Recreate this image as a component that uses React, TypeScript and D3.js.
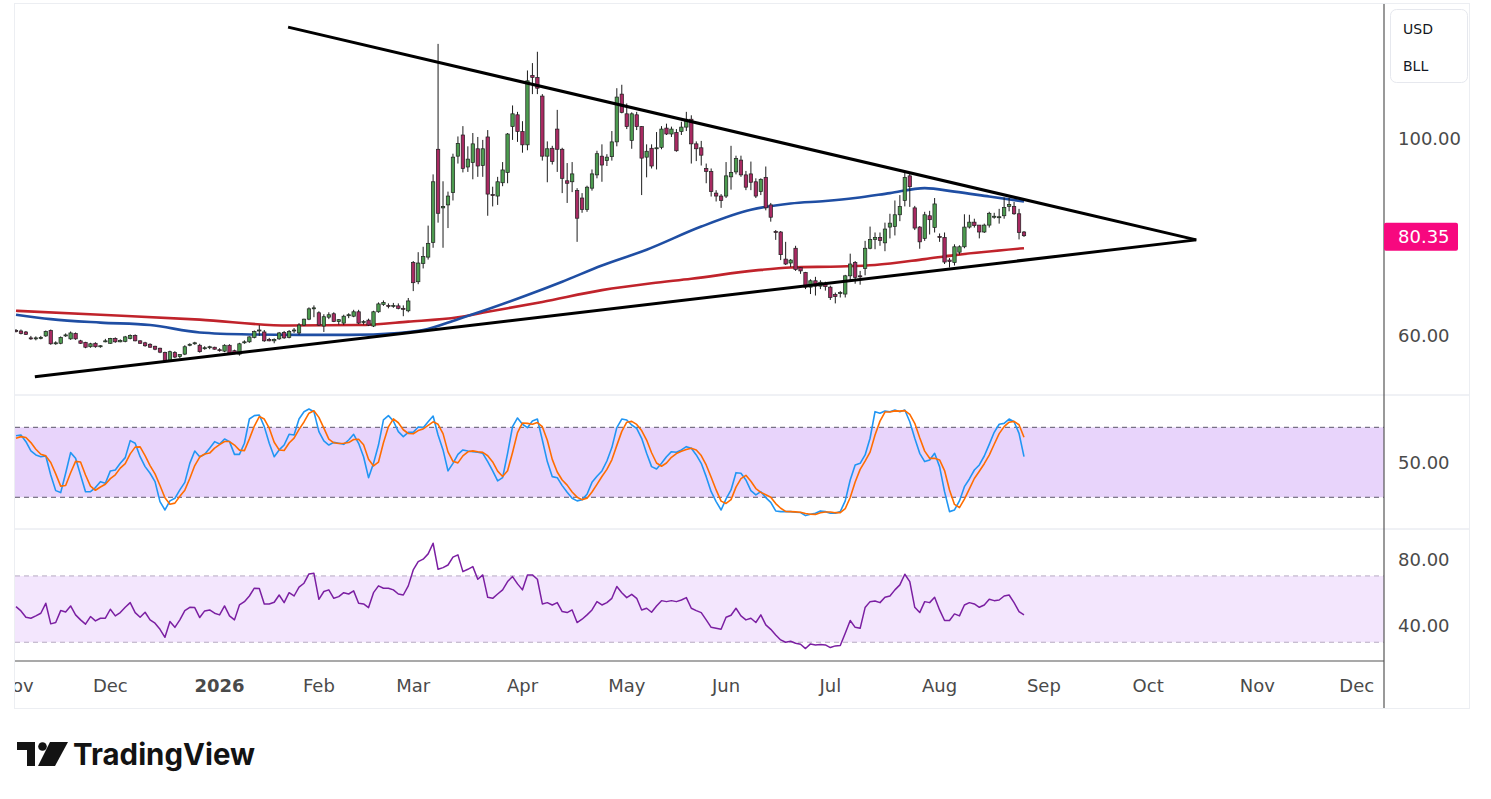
import React from "react";
import * as d3 from "d3";

// ---- data (daily bars from 2025-11-03, US trading calendar) ----
const firstDay = "2025-11-03";
const holidays = [
  "2025-11-27", "2025-12-25", "2026-01-01", "2026-01-19", "2026-02-16", "2026-04-03",
  "2026-05-25", "2026-06-19", "2026-07-03", "2026-09-07", "2026-11-26", "2026-12-25",
];

// [open, high, low, close]
const candles: [number, number, number, number][] = [
  [61.1, 61.4, 60.7, 60.9], [61.0, 61.3, 60.3, 60.5], [60.8, 61.0, 60.2, 60.3], [59.6, 60.0, 59.2, 59.5], [59.5, 59.9, 59.1, 59.6],
  [59.6, 60.0, 59.3, 59.7], [60.0, 61.1, 59.8, 60.9], [61.1, 61.3, 58.2, 58.4], [58.5, 58.9, 58.2, 58.6], [58.5, 59.9, 58.3, 59.7],
  [60.1, 60.5, 59.8, 60.2], [59.4, 60.9, 59.2, 60.6], [60.5, 60.7, 59.2, 59.4], [59.0, 59.2, 58.4, 58.5], [58.7, 58.8, 57.5, 57.7],
  [57.8, 58.6, 57.6, 58.4], [58.5, 58.7, 57.6, 57.8], [57.9, 58.1, 57.6, 58.0], [58.9, 59.4, 58.7, 59.0], [58.5, 59.6, 58.4, 59.5],
  [59.5, 59.7, 58.6, 58.8], [58.8, 59.3, 58.7, 59.1], [58.9, 60.0, 58.7, 59.8], [59.5, 60.3, 59.3, 60.1], [60.1, 60.3, 58.9, 59.0],
  [59.0, 59.1, 58.4, 58.5], [58.6, 58.8, 57.8, 58.0], [58.3, 58.5, 57.6, 57.7], [57.9, 58.0, 57.1, 57.3], [57.5, 57.6, 56.5, 56.7],
  [56.6, 56.8, 54.8, 55.0], [55.0, 57.0, 54.7, 56.8], [56.6, 56.9, 55.5, 55.7], [55.8, 56.3, 55.5, 56.2], [56.3, 58.1, 56.1, 57.8],
  [58.2, 58.5, 57.9, 58.3], [58.4, 58.8, 58.2, 58.6], [58.1, 58.4, 56.6, 56.8], [57.5, 57.9, 57.2, 57.6], [57.6, 58.0, 57.3, 57.8],
  [57.7, 57.8, 57.2, 57.3], [57.2, 57.5, 56.8, 57.0], [56.9, 58.3, 56.7, 58.1], [58.1, 58.3, 56.4, 56.5], [57.0, 57.2, 56.3, 56.5],
  [56.3, 58.6, 56.0, 58.4], [58.6, 59.1, 58.4, 58.8], [58.8, 59.9, 58.6, 59.8], [59.7, 61.1, 59.5, 60.9], [61.1, 62.2, 60.0, 61.2],
  [60.8, 61.2, 58.8, 59.0], [59.3, 59.6, 58.9, 59.0], [59.0, 59.5, 58.5, 59.3], [59.4, 60.8, 59.2, 60.6], [60.7, 61.0, 59.4, 59.6],
  [59.7, 61.2, 59.5, 60.9], [61.0, 61.6, 60.6, 61.2], [60.6, 62.6, 60.2, 62.2], [62.2, 63.5, 62.0, 63.4], [63.4, 65.8, 63.2, 65.5],
  [65.6, 66.2, 63.8, 65.7], [64.7, 65.0, 62.0, 62.2], [62.0, 64.4, 60.8, 63.9], [63.8, 64.8, 63.4, 64.3], [64.5, 64.8, 62.8, 62.9],
  [62.9, 63.4, 62.3, 63.3], [62.6, 64.3, 62.2, 64.0], [64.2, 64.6, 63.6, 64.3], [64.0, 65.3, 63.8, 64.9], [64.9, 65.3, 62.4, 62.6],
  [62.8, 63.2, 62.3, 62.9], [63.2, 63.5, 62.0, 62.2], [62.0, 65.1, 61.8, 64.9], [64.9, 66.8, 64.7, 66.5], [66.4, 67.2, 66.1, 66.8],
  [66.2, 66.6, 65.6, 66.0], [66.1, 66.7, 65.7, 66.2], [66.1, 66.6, 65.4, 65.6], [65.6, 66.2, 64.0, 65.5], [65.1, 67.7, 64.8, 67.1],
  [74.9, 75.2, 69.1, 70.8], [71.0, 77.0, 70.5, 74.8], [74.7, 78.1, 73.7, 76.1], [76.0, 82.4, 75.5, 78.8], [79.0, 92.8, 77.9, 91.3],
  [97.9, 119.3, 83.0, 84.9], [86.0, 91.4, 77.9, 86.3], [86.6, 89.3, 81.9, 88.4], [89.1, 97.0, 87.5, 96.3], [96.5, 100.5, 95.0, 99.1],
  [100.8, 102.6, 93.2, 94.0], [94.3, 98.5, 93.3, 95.9], [95.2, 101.2, 91.8, 99.0], [98.0, 100.4, 92.3, 94.5], [94.6, 99.8, 92.3, 98.0],
  [100.4, 101.8, 84.4, 88.8], [88.7, 90.3, 86.3, 88.5], [88.4, 92.3, 86.6, 91.3], [91.1, 95.3, 90.4, 93.7], [93.2, 101.2, 91.0, 101.0],
  [102.5, 106.8, 99.8, 105.1], [104.9, 105.5, 99.4, 101.5], [101.5, 103.6, 97.2, 98.8], [98.8, 113.9, 97.7, 111.8], [112.9, 115.4, 109.1, 112.5],
  [112.5, 117.7, 109.1, 110.3], [108.7, 109.1, 95.6, 96.5], [96.5, 99.5, 91.2, 98.0], [98.1, 98.6, 94.8, 95.4], [102.0, 105.9, 93.3, 97.9],
  [97.9, 98.2, 89.0, 92.0], [91.5, 95.1, 87.0, 91.0], [91.3, 95.3, 89.2, 92.9], [89.5, 90.0, 79.1, 83.9], [88.0, 89.0, 85.0, 85.7],
  [85.7, 90.5, 85.2, 90.2], [90.0, 93.8, 89.5, 92.9], [92.7, 97.6, 92.0, 97.0], [96.5, 98.9, 91.3, 94.7], [95.6, 96.9, 94.5, 96.3],
  [96.4, 101.6, 95.6, 99.4], [99.4, 110.3, 98.5, 108.5], [109.1, 111.0, 105.2, 105.4], [105.1, 107.2, 102.0, 102.5], [99.7, 105.4, 98.0, 105.1],
  [104.9, 105.5, 101.8, 102.5], [102.5, 102.6, 88.6, 96.1], [96.3, 98.9, 92.2, 97.5], [98.1, 98.9, 94.0, 94.5], [98.1, 101.4, 93.8, 98.2],
  [98.3, 102.6, 97.9, 102.0], [102.2, 103.1, 100.8, 101.0], [101.0, 102.5, 100.4, 102.0], [101.3, 102.0, 97.4, 97.6], [101.5, 103.5, 100.8, 102.4],
  [102.4, 105.5, 101.6, 104.0], [104.0, 104.8, 95.0, 99.0], [99.0, 99.5, 95.5, 98.0], [98.2, 99.6, 94.6, 96.7], [94.0, 95.0, 91.0, 93.4],
  [93.4, 94.0, 88.3, 89.3], [89.0, 89.6, 87.3, 88.4], [88.4, 88.8, 86.0, 87.5], [88.4, 95.3, 88.0, 92.5], [92.3, 98.6, 89.7, 93.2],
  [93.3, 96.6, 92.8, 96.0], [95.7, 96.6, 92.3, 92.7], [92.7, 93.5, 89.6, 90.2], [92.9, 95.4, 89.6, 91.2], [91.3, 92.0, 88.0, 88.4],
  [89.3, 92.0, 88.6, 91.8], [92.2, 94.4, 85.5, 86.0], [86.6, 87.0, 83.2, 84.1], [81.2, 81.5, 79.5, 81.0], [81.1, 81.3, 75.4, 76.5],
  [75.6, 79.1, 74.4, 74.6], [74.8, 75.6, 74.0, 75.4], [77.8, 78.3, 73.2, 73.5], [73.9, 74.0, 72.6, 73.2], [72.9, 73.0, 69.5, 69.9],
  [69.9, 71.5, 68.5, 71.2], [71.2, 72.0, 68.2, 70.1], [70.1, 71.3, 69.5, 70.9], [70.6, 71.0, 69.2, 70.0], [69.9, 70.2, 67.3, 67.8],
  [68.4, 68.8, 66.6, 68.0], [68.6, 69.1, 67.8, 68.8], [68.5, 72.4, 67.8, 72.2], [72.2, 76.7, 71.3, 74.6], [74.9, 75.2, 70.6, 71.9],
  [72.2, 73.2, 70.4, 72.0], [73.7, 79.3, 72.3, 77.8], [77.8, 82.2, 77.6, 79.6], [79.6, 81.0, 77.6, 80.0], [80.0, 81.0, 78.3, 79.4],
  [78.9, 83.0, 77.2, 81.7], [82.1, 84.8, 79.8, 82.9], [82.2, 87.5, 80.4, 84.6], [84.6, 88.6, 83.3, 86.3], [87.5, 93.2, 86.3, 92.2],
  [92.5, 93.0, 86.2, 90.3], [86.0, 86.4, 81.5, 81.9], [82.1, 82.3, 77.7, 79.1], [79.8, 85.2, 79.3, 84.6], [84.4, 85.4, 80.6, 83.6],
  [82.0, 88.0, 81.0, 86.8], [80.2, 80.8, 79.1, 80.0], [80.0, 81.0, 74.6, 75.0], [75.4, 75.8, 73.9, 75.1], [74.9, 78.6, 74.3, 78.1],
  [77.0, 78.4, 76.5, 78.1], [78.1, 84.7, 77.8, 82.1], [82.1, 84.6, 81.8, 83.1], [83.1, 83.8, 82.0, 82.4], [82.5, 82.5, 79.8, 81.1],
  [81.1, 82.8, 80.9, 82.5], [82.5, 85.2, 82.0, 84.9], [84.1, 85.0, 83.8, 84.3], [84.1, 85.8, 82.8, 84.2], [84.4, 88.1, 83.8, 86.1],
  [86.3, 88.1, 85.3, 86.7], [86.3, 87.2, 84.6, 84.8], [84.8, 85.8, 79.6, 81.0], [81.1, 81.3, 80.1, 80.35],
];

// moving averages, read at selected bars: [bar, value]
const maFast: [number, number][] = [
  [0, 64.3], [7, 63.4], [17, 62.7], [27, 62.2], [37, 60.7], [47, 60.3], [57, 60.2], [67, 60.2], [77, 60.6],
  [82, 61.2], [89, 63.4], [95, 65.4], [103, 68.3], [110, 71.0], [118, 74.3], [127, 77.5], [138, 82.2],
  [148, 85.6], [156, 86.9], [163, 87.4], [169, 88.0], [176, 89.0], [183, 90.0], [189, 89.3], [196, 88.3], [203, 87.3],
];
const maSlow: [number, number][] = [
  [0, 65.1], [17, 64.3], [37, 63.3], [55, 62.1], [69, 62.2], [79, 62.9], [89, 63.8], [95, 64.9], [106, 66.9],
  [118, 69.3], [128, 70.7], [136, 71.6], [149, 73.3], [156, 73.9], [166, 74.1], [173, 74.4], [183, 75.6], [189, 76.4], [203, 77.8],
];

// triangle trendlines: [bar, price]
const upperTrend: [number, number][] = [[54.8, 122.7], [237.7, 79.5]];
const lowerTrend: [number, number][] = [[3.8, 51.7], [237.7, 79.5]];

const stochK = [
  72.8, 73.4, 67.7, 59.7, 56.3, 54.8, 55.4, 39.1, 25.7, 24.0,
  40.6, 58.3, 53.4, 39.1, 24.8, 24.8, 28.3, 33.4, 32.0, 42.6,
  43.4, 49.1, 54.0, 68.6, 66.3, 54.8, 46.3, 40.6, 33.4, 16.3,
  9.1, 16.9, 19.1, 26.3, 32.8, 49.1, 59.7, 54.8, 56.8, 62.0,
  67.7, 65.7, 70.0, 67.7, 56.8, 56.8, 66.3, 87.1, 90.0, 90.6,
  80.6, 66.3, 54.8, 60.6, 64.8, 74.0, 73.4, 87.1, 93.4, 95.7,
  93.4, 76.3, 68.3, 64.8, 67.1, 66.3, 65.4, 69.1, 74.0, 66.3,
  54.8, 36.8, 49.1, 64.8, 86.3, 90.0, 85.4, 76.3, 72.0, 75.7,
  75.7, 80.3, 79.7, 84.8, 89.7, 73.4, 60.6, 42.6, 49.1, 56.8,
  60.6, 59.7, 59.1, 58.6, 57.7, 50.6, 42.6, 34.0, 36.8, 57.7,
  80.6, 88.0, 82.6, 79.7, 85.4, 87.1, 69.1, 50.6, 37.7, 36.8,
  30.0, 24.3, 19.1, 16.9, 18.0, 22.6, 32.8, 38.0, 42.6, 51.1,
  62.6, 79.7, 87.1, 86.3, 82.0, 79.1, 70.6, 57.7, 46.3, 44.3,
  49.1, 54.8, 59.1, 58.6, 60.6, 63.4, 62.0, 56.3, 49.1, 37.7,
  24.8, 16.3, 9.1, 18.6, 26.3, 41.1, 40.6, 34.8, 25.7, 22.0,
  24.8, 19.7, 15.7, 8.3, 7.7, 7.7, 7.7, 7.1, 6.9, 4.3,
  5.4, 6.3, 8.3, 7.7, 6.3, 6.3, 7.7, 16.9, 34.8, 47.7,
  49.1, 56.3, 70.6, 93.4, 92.0, 94.0, 93.4, 94.8, 93.4, 94.8,
  84.8, 70.6, 57.7, 50.6, 52.0, 57.7, 46.3, 24.8, 7.7, 9.1,
  16.9, 29.1, 35.7, 43.4, 47.7, 55.4, 65.4, 75.7, 82.6, 83.4,
  87.1, 84.8, 74.8, 54.8,
];
const stochD = [
  70.6, 72.0, 71.3, 66.9, 61.2, 56.9, 55.5, 49.8, 40.1, 29.6,
  30.1, 41.0, 50.8, 50.3, 39.1, 29.6, 26.0, 28.8, 31.2, 36.0,
  39.3, 45.0, 48.8, 57.2, 63.0, 63.2, 55.8, 47.2, 40.1, 30.1,
  19.6, 14.1, 15.0, 20.8, 26.1, 36.1, 47.2, 54.5, 57.1, 57.9,
  62.2, 65.1, 67.8, 67.8, 64.8, 60.4, 60.0, 70.1, 81.1, 89.2,
  87.1, 79.2, 67.2, 60.6, 60.1, 66.5, 70.7, 78.2, 84.6, 92.1,
  94.2, 88.5, 79.3, 69.8, 66.7, 66.1, 66.3, 66.9, 69.5, 69.8,
  65.0, 52.6, 46.9, 50.2, 66.7, 80.4, 87.2, 83.9, 77.9, 74.7,
  74.5, 77.2, 78.6, 81.6, 84.7, 82.6, 74.6, 58.9, 50.8, 49.5,
  55.5, 59.0, 59.8, 59.1, 58.5, 55.6, 50.3, 42.4, 37.8, 42.8,
  58.4, 75.4, 83.7, 83.4, 82.6, 84.1, 80.5, 68.9, 52.5, 41.7,
  34.8, 30.4, 24.5, 20.1, 18.0, 19.2, 24.5, 31.1, 37.8, 43.9,
  52.1, 64.5, 76.5, 84.4, 85.1, 82.5, 77.2, 69.1, 58.2, 49.4,
  46.6, 49.4, 54.3, 57.5, 59.4, 60.9, 62.0, 60.6, 55.8, 47.7,
  37.2, 26.3, 16.7, 14.7, 18.0, 28.7, 36.0, 38.8, 33.7, 27.5,
  24.2, 22.2, 20.1, 14.6, 10.6, 7.9, 7.7, 7.5, 7.2, 6.1,
  5.5, 5.3, 6.7, 7.4, 7.4, 6.8, 6.8, 10.3, 19.8, 33.1,
  43.9, 51.0, 58.7, 73.4, 85.3, 93.1, 93.1, 94.1, 93.9, 94.3,
  91.0, 83.4, 71.0, 59.6, 53.4, 53.4, 52.0, 42.9, 26.3, 13.9,
  11.2, 18.4, 27.2, 36.1, 42.3, 48.8, 56.2, 65.5, 74.6, 80.6,
  84.4, 85.1, 82.2, 71.5,
];
const rsi = [
  51.5, 48.9, 45.1, 44.5, 45.9, 47.5, 53.5, 41.1, 41.9, 49.1,
  48.3, 51.9, 46.5, 43.5, 40.9, 45.5, 42.9, 44.5, 44.5, 49.9,
  45.9, 47.9, 51.1, 53.9, 47.9, 45.1, 48.1, 43.5, 41.5, 37.8,
  33.0, 42.5, 39.0, 43.5, 49.1, 51.1, 50.9, 44.9, 48.9, 49.5,
  47.5, 46.5, 51.9, 45.9, 43.5, 52.5, 54.5, 57.9, 62.6, 62.4,
  53.1, 53.1, 54.1, 58.5, 53.9, 59.9, 57.9, 63.2, 65.6, 71.2,
  71.6, 55.9, 60.6, 61.6, 56.5, 57.5, 59.9, 59.1, 61.0, 53.5,
  53.1, 50.9, 59.9, 64.0, 62.6, 62.6, 61.6, 59.1, 58.5, 64.0,
  73.6, 78.6, 80.1, 83.3, 89.7, 74.0, 75.0, 76.6, 81.3, 82.7,
  72.6, 74.0, 75.6, 68.0, 70.6, 57.1, 56.5, 59.1, 61.6, 66.6,
  69.6, 65.2, 61.6, 70.6, 70.6, 68.0, 53.1, 53.9, 52.5, 53.9,
  48.5, 47.9, 49.5, 41.9, 43.9, 46.5, 49.5, 54.5, 52.5, 53.9,
  56.5, 63.6, 59.9, 56.9, 58.9, 56.5, 49.5, 50.5, 48.1, 51.9,
  55.1, 54.5, 55.1, 54.5, 55.5, 56.9, 50.5, 49.1, 47.9, 43.5,
  39.0, 38.4, 37.8, 45.1, 46.3, 50.5, 45.9, 43.5, 44.5, 41.9,
  46.5, 40.5, 37.8, 34.4, 31.4, 30.0, 30.6, 29.4, 28.8, 26.2,
  29.0, 28.4, 28.6, 28.4, 26.8, 27.8, 28.0, 35.4, 43.1, 39.0,
  38.4, 50.9, 54.5, 54.9, 53.9, 57.1, 57.9, 61.6, 64.6, 71.0,
  66.6, 51.1, 47.9, 54.5, 53.9, 57.1, 49.5, 43.1, 43.1, 47.1,
  45.9, 52.5, 53.9, 53.1, 51.1, 52.5, 55.9, 55.1, 55.5, 57.9,
  58.5, 53.9, 48.5, 46.5,
];

const priceTicks = [100, 60];
const stochTicks = [50];
const rsiTicks = [80, 40];
const stochBands = [80, 20];
const rsiBands = [70, 30];
const lastPrice = 80.35;
const monthNames = ["Jan", "Feb", "Mar", "Apr", "May", "Jun", "Jul", "Aug", "Sep", "Oct", "Nov", "Dec"];

// ---- layout ----
const W = 1491;
const H = 799;
const L = 15;
const R = 1384;
const AX = 1469;
const P_TOP = 4;
const P_BOT = 395;
const S_BOT = 529;
const I_BOT = 661;
const T_BOT = 708;
const FONT = "'DejaVu Sans', sans-serif";

function tradingDays(start: string, count: number): Date[] {
  const out: Date[] = [];
  const d = new Date(start + "T00:00:00Z");
  while (out.length < count) {
    const dow = d.getUTCDay();
    const key = d.toISOString().slice(0, 10);
    if (dow !== 0 && dow !== 6 && !holidays.includes(key)) out.push(new Date(d));
    d.setUTCDate(d.getUTCDate() + 1);
  }
  return out;
}

function App(): JSX.Element {
  const dates = tradingDays(firstDay, 280);

  const x = d3.scaleLinear().domain([-0.2, 275.5]).range([L, R]);
  const yP = d3.scaleLinear().domain([48.0, 127.4]).range([P_BOT, P_TOP]);
  const yS = d3.scaleLinear().domain([-7.2, 107.7]).range([S_BOT, P_BOT]);
  const yR = d3.scaleLinear().domain([18.7, 98.3]).range([I_BOT, S_BOT]);

  const maLine = d3
    .line<[number, number]>()
    .x((d) => x(d[0]))
    .y((d) => yP(d[1]))
    .curve(d3.curveMonotoneX);
  const trendLine = d3
    .line<[number, number]>()
    .x((d) => x(d[0]))
    .y((d) => yP(d[1]));
  const stochLine = d3
    .line<number>()
    .x((_, i) => x(i))
    .y((d) => yS(d));
  const rsiLine = d3
    .line<number>()
    .x((_, i) => x(i))
    .y((d) => yR(d));

  const monthTicks: { i: number; label: string; year: boolean }[] = [];
  dates.forEach((d, i) => {
    if (i === 0 || d.getUTCMonth() !== dates[i - 1].getUTCMonth()) {
      const m = d.getUTCMonth();
      monthTicks.push({
        i,
        label: m === 0 ? String(d.getUTCFullYear()) : monthNames[m],
        year: m === 0,
      });
    }
  });

  const bodyW = 3.4;

  return (
    <svg
      width={W}
      height={H}
      viewBox={`0 0 ${W} ${H}`}
      style={{ position: "absolute", left: 0, top: 0, background: "#fff" }}
    >
      <defs>
        <clipPath id="clipP">
          <rect x={L} y={P_TOP} width={R - L} height={P_BOT - P_TOP} />
        </clipPath>
        <clipPath id="clipS">
          <rect x={L} y={P_BOT} width={R - L} height={S_BOT - P_BOT} />
        </clipPath>
        <clipPath id="clipR">
          <rect x={L} y={S_BOT} width={R - L} height={I_BOT - S_BOT} />
        </clipPath>
        <clipPath id="clipT">
          <rect x={L} y={I_BOT} width={R - L} height={T_BOT - I_BOT} />
        </clipPath>
      </defs>

      {/* frame */}
      <rect x={L - 0.5} y={P_TOP - 0.5} width={AX - L + 1} height={T_BOT - P_TOP + 1} fill="#fff" stroke="#eceef2" />

      {/* stoch rsi pane */}
      <rect x={L} y={yS(stochBands[0])} width={R - L} height={yS(stochBands[1]) - yS(stochBands[0])} fill="#e8d4fb" />
      {stochBands.map((b) => (
        <line key={b} x1={L} x2={R} y1={yS(b)} y2={yS(b)} stroke="#5b5668" strokeDasharray="5,4" strokeWidth={1} />
      ))}
      <g clipPath="url(#clipS)" fill="none" strokeWidth={1.6} strokeLinejoin="round">
        <path d={stochLine(stochK) ?? ""} stroke="#2196f3" />
        <path d={stochLine(stochD) ?? ""} stroke="#ff6d00" />
      </g>

      {/* rsi pane */}
      <rect x={L} y={yR(rsiBands[0])} width={R - L} height={yR(rsiBands[1]) - yR(rsiBands[0])} fill="#f3e6fd" />
      {rsiBands.map((b) => (
        <line key={b} x1={L} x2={R} y1={yR(b)} y2={yR(b)} stroke="#b6abc2" strokeDasharray="5,4" strokeWidth={1} />
      ))}
      <g clipPath="url(#clipR)">
        <path d={rsiLine(rsi) ?? ""} fill="none" stroke="#7b1fa2" strokeWidth={1.5} strokeLinejoin="round" />
      </g>

      {/* price pane */}
      <g clipPath="url(#clipP)">
        <path d={maLine(maSlow) ?? ""} fill="none" stroke="#c0232b" strokeWidth={2.6} />
        <path d={maLine(maFast) ?? ""} fill="none" stroke="#1f4ea3" strokeWidth={2.6} />
        {candles.map(([o, h, l, c], i) => {
          const up = c >= o;
          const top = yP(Math.max(o, c));
          const bot = yP(Math.min(o, c));
          return (
            <g key={i}>
              <line x1={x(i)} x2={x(i)} y1={yP(h)} y2={yP(l)} stroke="#1c1c1c" strokeWidth={1} />
              <rect
                x={x(i) - bodyW / 2}
                y={top}
                width={bodyW}
                height={Math.max(1, bot - top)}
                fill={up ? "#4c9b4f" : "#a82a62"}
                stroke="#1f1f1f"
                strokeWidth={0.7}
              />
            </g>
          );
        })}
        <path d={trendLine(upperTrend) ?? ""} stroke="#000" strokeWidth={3} fill="none" />
        <path d={trendLine(lowerTrend) ?? ""} stroke="#000" strokeWidth={3} fill="none" />
      </g>

      {/* pane separators and axis lines */}
      <line x1={L} x2={AX} y1={P_BOT} y2={P_BOT} stroke="#e0e3eb" />
      <line x1={L} x2={AX} y1={S_BOT} y2={S_BOT} stroke="#e0e3eb" />
      <line x1={L} x2={R} y1={I_BOT} y2={I_BOT} stroke="#555" strokeWidth={1.2} />
      <line x1={R} x2={R} y1={P_TOP} y2={T_BOT} stroke="#555" strokeWidth={1.2} />

      {/* right axis labels */}
      <g fontFamily={FONT} fontSize={18} fill="#4a4a4a">
        {priceTicks.map((t) => (
          <text key={"p" + t} x={1398} y={yP(t) + 6.5}>
            {t.toFixed(2)}
          </text>
        ))}
        {stochTicks.map((t) => (
          <text key={"s" + t} x={1398} y={yS(t) + 6.5}>
            {t.toFixed(2)}
          </text>
        ))}
        {rsiTicks.map((t) => (
          <text key={"r" + t} x={1398} y={yR(t) + 6.5}>
            {t.toFixed(2)}
          </text>
        ))}
      </g>

      {/* last price label */}
      <rect x={R} y={yP(lastPrice) - 13} width={74} height={28} rx={2} fill="#f7087f" />
      <text x={1398} y={yP(lastPrice) + 7.5} fontFamily={FONT} fontSize={18} fill="#fff">
        {lastPrice.toFixed(2)}
      </text>

      {/* currency / unit box */}
      <rect x={1390.5} y={9.5} width={77} height={73} rx={6} fill="#fff" stroke="#e6e8ee" />
      <text x={1403} y={34} fontFamily={FONT} fontSize={14} fill="#131722">USD</text>
      <text x={1403} y={71} fontFamily={FONT} fontSize={14} fill="#131722">BLL</text>

      {/* time axis */}
      <g clipPath="url(#clipT)" fontFamily={FONT} fontSize={18} fill="#4a4a4a" textAnchor="middle">
        {monthTicks.map((t) => (
          <text key={t.i} x={x(t.i)} y={692} fontWeight={t.year ? 600 : 400}>
            {t.label}
          </text>
        ))}
      </g>

      {/* TradingView logo */}
      <g fill="#131313">
        <path d="M17 742 H35 V766 H27 V750 H17 Z" />
        <circle cx={42.5} cy={746.5} r={4.3} />
        <path d="M50 742 H68 L55 766 H38 Z" />
        <text x={73} y={765} fontFamily="Inter, 'Noto Sans', sans-serif" fontWeight={700} fontSize={30} textLength={182} lengthAdjust="spacingAndGlyphs">
          TradingView
        </text>
      </g>
    </svg>
  );
}

export default App;
